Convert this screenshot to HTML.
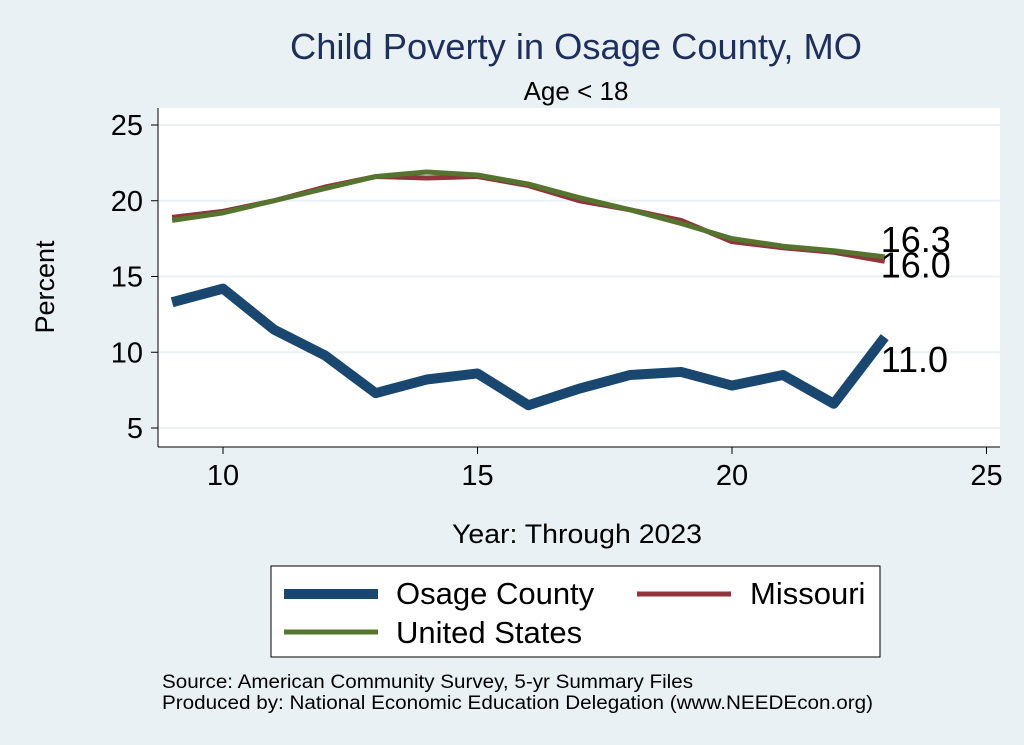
<!DOCTYPE html>
<html><head><meta charset="utf-8"><style>
body{margin:0;background:#eaf1f4;}
svg{display:block;font-family:"Liberation Sans",Arial,sans-serif;}
</style></head><body>
<svg width="1024" height="745">
<rect x="0" y="0" width="1024" height="745" fill="#eaf1f4"/>
<text x="576" y="59" font-size="36" fill="#1f2f5c" text-anchor="middle" textLength="572" lengthAdjust="spacingAndGlyphs">Child Poverty in Osage County, MO</text>
<text x="576" y="100" font-size="26" fill="#000" text-anchor="middle">Age &lt; 18</text>
<rect x="158" y="108" width="842" height="339" fill="#fff"/>
<g id="grid"></g><g id="axes"></g><g id="series"></g>
<text x="577" y="543" font-size="27" text-anchor="middle" textLength="250" lengthAdjust="spacingAndGlyphs">Year: Through 2023</text>
<text transform="translate(54,287) rotate(-90)" font-size="27" text-anchor="middle">Percent</text>
<g>
<rect x="271" y="566" width="609" height="91" fill="#fff" stroke="#000" stroke-width="1"/>
<line x1="284" y1="594" x2="378" y2="594" stroke="#1a476f" stroke-width="10"/>
<text x="396" y="604" font-size="31">Osage County</text>
<line x1="637" y1="594" x2="731" y2="594" stroke="#90353b" stroke-width="5"/>
<text x="750" y="604" font-size="31">Missouri</text>
<line x1="284" y1="632" x2="378" y2="632" stroke="#55752f" stroke-width="5"/>
<text x="396" y="643" font-size="31">United States</text>
</g>
<text x="162" y="688" font-size="19" textLength="531" lengthAdjust="spacingAndGlyphs">Source: American Community Survey, 5-yr Summary Files</text>
<text x="162" y="709" font-size="19" textLength="711" lengthAdjust="spacingAndGlyphs">Produced by: National Economic Education Delegation (www.NEEDEcon.org)</text>
</svg>
<script>
const years=[9,10,11,12,13,14,15,16,17,18,19,20,21,22,23];
const osage=[13.3,14.2,11.5,9.8,7.3,8.2,8.6,6.5,7.6,8.5,8.7,7.8,8.5,6.6,11.0];
const missouri=[18.9,19.3,20.0,20.9,21.6,21.5,21.6,21.0,20.0,19.4,18.7,17.3,16.9,16.6,16.0];
const us=[18.7,19.2,20.0,20.8,21.6,21.9,21.7,21.1,20.2,19.4,18.5,17.5,17.0,16.7,16.3];
const xTicks=[10,15,20,25];
const yTicks=[5,10,15,20,25];
const NS="http://www.w3.org/2000/svg";
const xs=v=>223+(v-10)*50.9;
const ys=v=>428-(v-5)*15.15;
function mk(t,a,p){const e=document.createElementNS(NS,t);for(const k in a)e.setAttribute(k,a[k]);p.appendChild(e);return e;}
const grid=document.getElementById('grid'),axes=document.getElementById('axes'),ser=document.getElementById('series');
yTicks.forEach(v=>{
 const g=mk('line',{x1:158,x2:1000,y1:ys(v),y2:ys(v),stroke:'#eaf1f4','stroke-width':2},grid);
 
 
 const t=mk('line',{x1:151,x2:158,y1:ys(v),y2:ys(v),stroke:'#000'},axes);
 
 
 const l=mk('text',{x:143,y:ys(v)+10,'font-size':29,'text-anchor':'end'},axes);l.textContent=v;
 
 
});
xTicks.forEach(v=>{
 const t=mk('line',{x1:xs(v),x2:xs(v),y1:447,y2:454,stroke:'#000'},axes);
 
 
 const l=mk('text',{x:xs(v),y:485,'font-size':29,'text-anchor':'middle'},axes);l.textContent=v;
 
 
});
const ya=mk('line',{x1:158,x2:158,y1:108,y2:447,stroke:'#000'},axes);


const xa=mk('line',{x1:158,x2:1000,y1:447,y2:447,stroke:'#000'},axes);


function line(vals,color,w,name){
 const p=mk('polyline',{points:years.map((y,i)=>xs(y)+','+ys(vals[i])).join(' '),fill:'none',stroke:color,'stroke-width':w,'stroke-linejoin':'round'},ser);
 
 
}
line(osage,'#1a476f',10,'osage-line');
line(missouri,'#90353b',5,'missouri-line');
line(us,'#55752f',5,'us-line');
const n=years.length-1;
[[us,-5,'us-end-label'],[missouri,16,'missouri-end-label'],[osage,35,'osage-end-label']].forEach(([a,dy,nm])=>{
 const t=mk('text',{x:xs(years[n])-4,y:ys(a[n])+dy,'font-size':36},ser);
 t.textContent=a[n].toFixed(1);
 
 
});
</script>
</body></html>
